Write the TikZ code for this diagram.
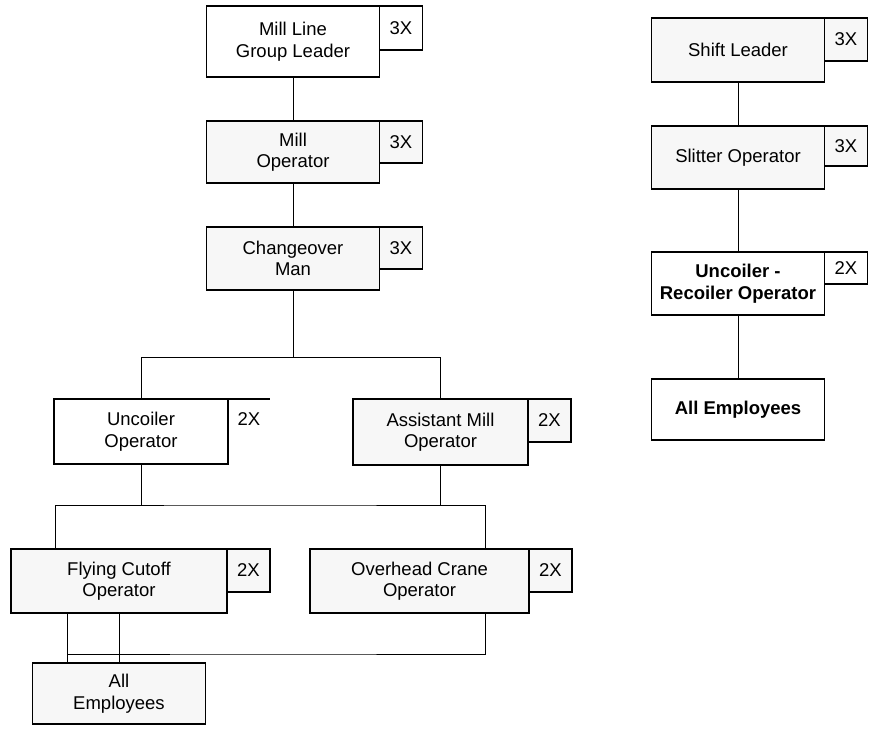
\documentclass[tikz,border=0pt]{standalone}
\usepackage{fontspec}
\setmainfont{Liberation Sans}
\begin{document}
\begin{tikzpicture}[x=1pt, y=-1pt,
  job/.style={draw, line width=1.4pt, outer sep=0pt, inner sep=1pt, minimum width=173pt, minimum height=63pt, align=center, font=\fontsize{18.5}{21.5}\selectfont},
  bold/.style={font=\fontsize{18.5}{21.5}\selectfont\bfseries},
  grayfill/.style={fill=black!3},
  tagbox/.style={draw, line width=1.4pt, outer sep=0pt, inner sep=0pt, anchor=north west, minimum width=43pt, font=\fontsize{18.5}{21.5}\selectfont},
  link/.style={line width=0.9pt}]
\useasboundingbox (0,0) rectangle (872,735);
% mill line
\node[job, minimum height=71pt] (ml) at (293,41.5) {Mill Line\\Group Leader};
\node[job, grayfill, minimum height=62pt] (mo) at (293,152) {Mill\\Operator};
\node[job, grayfill] (co) at (293,258.5) {Changeover\\Man};
\node[job, minimum width=174pt, minimum height=65pt] (uo) at (141,431.5) {Uncoiler\\Operator};
\node[job, grayfill, minimum width=175pt, minimum height=66pt] (amo) at (440.5,432) {Assistant Mill\\Operator};
\node[job, grayfill, minimum width=216pt, minimum height=64pt] (fc) at (119,581) {Flying Cutoff\\Operator};
\node[job, grayfill, minimum width=219pt, minimum height=64pt] (oc) at (419.5,581) {Overhead Crane\\Operator};
\node[job, grayfill, minimum height=61pt] (ae1) at (119,693.5) {All\\Employees};
% slitter line
\node[job, grayfill, minimum height=64pt] (sl) at (738,50) {Shift Leader};
\node[job, grayfill] (so) at (738,157.5) {Slitter Operator};
\node[job, bold] (ur) at (738,283.5) {Uncoiler -\\Recoiler Operator};
\node[job, bold, minimum height=61pt] (ae2) at (738,409.5) {All Employees};
% crew sizes
\node[tagbox, minimum height=44pt] (mlx) at (ml.north east) {3X};
\node[tagbox, grayfill, minimum height=42pt] (mox) at (mo.north east) {3X};
\node[tagbox, grayfill, minimum height=42pt] (cox) at (co.north east) {3X};
\node[tagbox, draw=none, minimum width=42pt, minimum height=41pt] (uox) at (uo.north east) {2X};
\draw[line width=1.4pt] (uox.north west) -- (uox.north east);
\node[tagbox, grayfill, minimum height=43pt] (amox) at (amo.north east) {2X};
\node[tagbox, grayfill, minimum height=43pt] (fcx) at (fc.north east) {2X};
\node[tagbox, grayfill, minimum height=43pt] (ocx) at (oc.north east) {2X};
\node[tagbox, grayfill, minimum height=43pt] (slx) at (sl.north east) {3X};
\node[tagbox, grayfill, minimum height=40pt] (sox) at (so.north east) {3X};
\node[tagbox, minimum height=32pt] (urx) at (ur.north east) {2X};
% connectors
\coordinate (bus1) at (290,357);
\coordinate (bus2) at (270,505);
\coordinate (bus3) at (270,654);
\draw[link] (ml) -- (mo);
\draw[link] (mo) -- (co);
\draw[link] (co) -- (co |- bus1);
\draw[link] (uo) |- (amo |- bus1) -- (amo);
\draw[link] (uo) -- (uo |- bus2);
\draw[link] (amo) -- (amo |- bus2);
\draw[link] ([xshift=-64pt]fc.north) |- (bus2) -| ([xshift=65.5pt]oc.north);
\draw[link] ([xshift=-52pt]fc.south) -- ([xshift=-52pt]ae1.north);
\draw[link] (fc) -- (ae1);
\draw[link] ([xshift=65.5pt]oc.south) |- (bus3) -| ([xshift=-52pt]ae1.north);
\draw[link] (sl) -- (so);
\draw[link] (so) -- (ur);
\draw[link] (ur) -- (ae2);
\end{tikzpicture}
\end{document}
